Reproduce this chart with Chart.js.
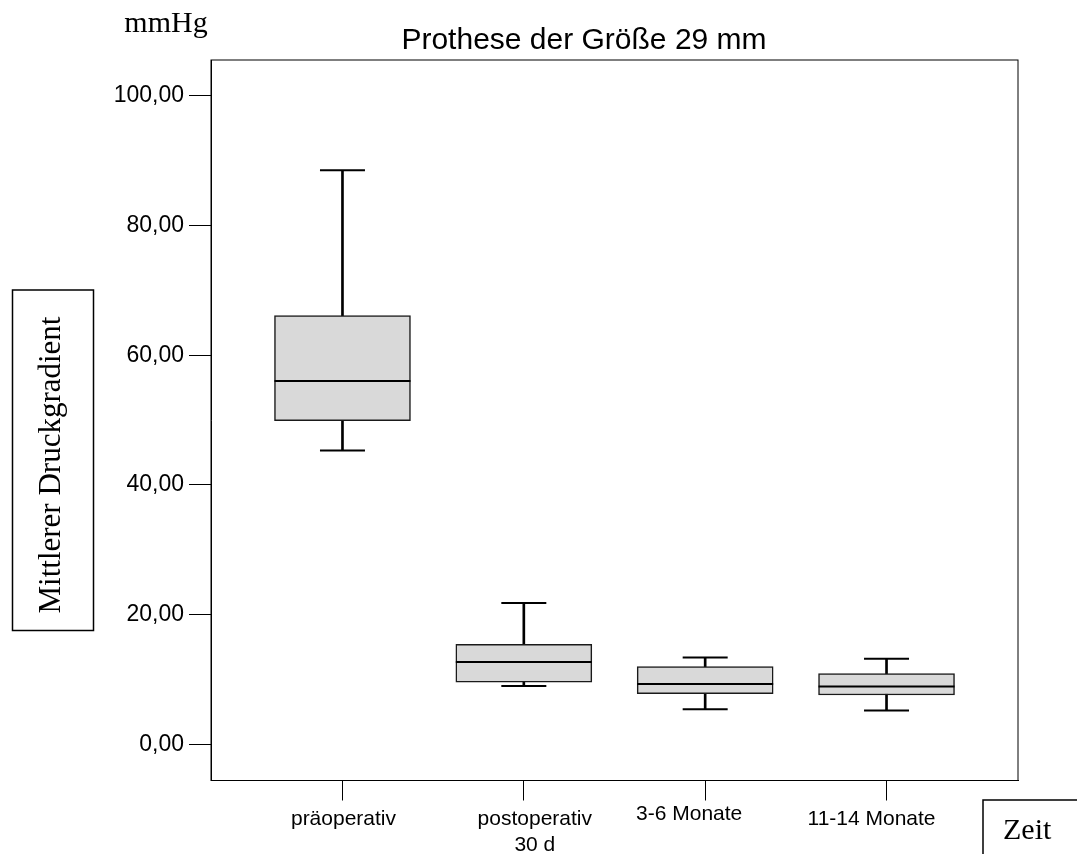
<!DOCTYPE html>
<html>
<head>
<meta charset="utf-8">
<script src="https://cdn.jsdelivr.net/npm/chart.js@4.4.0/dist/chart.umd.min.js"></script>
<style>
  body { margin: 0; background: #fff; }
</style>
</head>
<body>
<canvas id="boxChart" width="1077" height="854"></canvas>
<script>
// Mittlerer Druckgradient (mmHg), Prothese 29 mm
const categories = ['präoperativ', ['postoperativ', '30 d'], '3-6 Monate', '11-14 Monate'];
const whiskerLow = [45.3, 9.0, 5.4, 5.2];
const quartile1 = [49.9, 9.6, 7.8, 7.6];
const medians = [56.0, 12.7, 9.3, 8.9];
const quartile3 = [66.1, 15.4, 12.0, 10.9];
const whiskerHigh = [88.5, 21.8, 13.4, 13.2];
const yTicks = [0, 20, 40, 60, 80, 100];

// where each category label sits: px shift from its tick, baseline y
const labelPlace = [[1, 825], [11, 825], [-16, 820], [-15, 825]];

const xs = categories.map((c, i) => i + 1);
const sans = "'Liberation Sans', Arial, sans-serif";
const serif = "'Liberation Serif', 'Times New Roman', serif";

const whiskers = {
    type: 'bar',
    data: xs.map((x, i) => ({ x: x, y: [whiskerLow[i], whiskerHigh[i]] })),
    backgroundColor: '#000',
    borderWidth: 0,
    barThickness: 2,
    grouped: false,
    order: 3
};

const boxes = {
    type: 'bar',
    data: xs.map((x, i) => ({ x: x, y: [quartile1[i], quartile3[i]] })),
    backgroundColor: '#d9d9d9',
    borderColor: '#1a1a1a',
    borderWidth: 1.5,
    borderSkipped: false,
    barThickness: 136,
    grouped: false,
    order: 2
};

const caps = {
    type: 'line',
    showLine: false,
    data: xs.flatMap((x, i) => [{ x: x, y: whiskerLow[i] }, { x: x, y: whiskerHigh[i] }]),
    pointStyle: 'line',
    pointRadius: 22.5,
    pointBorderWidth: 2,
    pointBorderColor: '#000',
    order: 1
};

const medianLines = {
    type: 'line',
    showLine: false,
    data: xs.map((x, i) => ({ x: x, y: medians[i] })),
    pointStyle: 'line',
    pointRadius: 68,
    pointBorderWidth: 2,
    pointBorderColor: '#000',
    order: 0
};

const decorations = {
    id: 'decorations',
    beforeDatasetsDraw(chart) {
        const { ctx, chartArea: a } = chart;
        ctx.save();
        ctx.strokeStyle = '#000';
        ctx.lineWidth = 1;
        ctx.strokeRect(a.left, a.top, a.right - a.left, a.bottom - a.top);
        ctx.restore();
    },
    afterDraw(chart) {
        const ctx = chart.ctx;
        const xScale = chart.scales.x;
        ctx.save();
        ctx.fillStyle = '#000';
        ctx.strokeStyle = '#000';

        // title
        ctx.font = '30px ' + sans;
        ctx.textAlign = 'center';
        ctx.textBaseline = 'alphabetic';
        ctx.fillText('Prothese der Größe 29 mm', 584, 49);

        // unit
        ctx.font = '30px ' + serif;
        ctx.fillText('mmHg', 166, 32);

        // category labels under the ticks
        ctx.font = '21px ' + sans;
        categories.forEach((c, i) => {
            const lines = Array.isArray(c) ? c : [c];
            const px = xScale.getPixelForValue(xs[i]) + labelPlace[i][0];
            lines.forEach((t, j) => ctx.fillText(t, px, labelPlace[i][1] + j * 26));
        });

        // boxed y axis title
        ctx.lineWidth = 1.5;
        ctx.strokeRect(12.5, 290, 81, 340.5);
        ctx.save();
        ctx.translate(60, 465);
        ctx.rotate(-Math.PI / 2);
        ctx.font = '31px ' + serif;
        ctx.fillText('Mittlerer Druckgradient', 0, 0);
        ctx.restore();

        // boxed x axis title
        ctx.strokeRect(983, 800, 120, 80);
        ctx.textAlign = 'left';
        ctx.font = '30px ' + serif;
        ctx.fillText('Zeit', 1003, 839);
        ctx.restore();
    }
};

window.onload = () => {
    new Chart(document.getElementById('boxChart'), {
        type: 'bar',
        data: { datasets: [whiskers, boxes, caps, medianLines] },
        options: {
            responsive: false,
            animation: false,
            layout: { autoPadding: false, padding: { left: 0, top: 60, right: 59, bottom: 0 } },
            plugins: {
                legend: { display: false },
                tooltip: { enabled: false }
            },
            scales: {
                x: {
                    type: 'linear',
                    min: 0.275,
                    max: 4.725,
                    offset: false,
                    grid: { offset: false, drawOnChartArea: false, tickLength: 20, color: '#000', lineWidth: 1 },
                    border: { color: '#000', width: 1 },
                    ticks: { display: false },
                    afterBuildTicks: s => { s.ticks = xs.map(v => ({ value: v })); },
                    afterFit: s => { s.height = 73.5; }
                },
                y: {
                    min: -5.58,
                    max: 105.51,
                    grid: { drawOnChartArea: false, tickLength: 22, color: '#000', lineWidth: 1 },
                    border: { color: '#000', width: 1 },
                    ticks: {
                        color: '#000',
                        padding: 5,
                        font: { family: sans, size: 23 },
                        callback: v => v.toFixed(2).replace('.', ',')
                    },
                    afterBuildTicks: s => { s.ticks = yTicks.map(v => ({ value: v })); },
                    afterFit: s => { s.width = 211; }
                }
            }
        },
        plugins: [decorations]
    });
};
</script>
</body>
</html>
